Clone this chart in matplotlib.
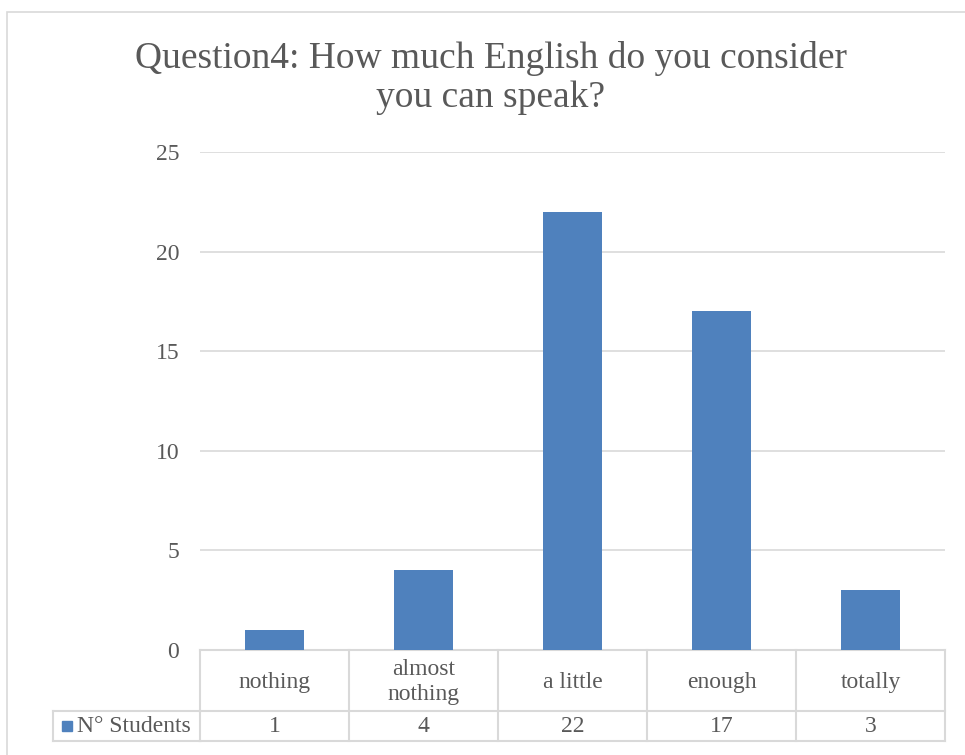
import numpy as np
import matplotlib.pyplot as plt
from matplotlib.transforms import blended_transform_factory
from matplotlib.patches import Rectangle

# data
categories = ["nothing", "almost\nnothing", "a little", "enough", "totally"]
students = [1, 4, 22, 17, 3]
series_name = "N\u00b0 Students"
yticks = [0, 5, 10, 15, 20, 25]

W, H = 965, 755
bar_color = "#4F81BD"
grid_color = "#D9D9D9"
text_color = "#595959"
plt.rcParams['font.family'] = ['Liberation Serif', 'DejaVu Serif']

fig = plt.figure(figsize=(W / 100, H / 100), dpi=100)

def fx(px):
    return px / W

def fy(py):
    return 1 - py / H

# outer chart border
fig.patches.append(Rectangle((fx(7), fy(1000)), fx(1000), fy(12) - fy(1000),
                             transform=fig.transFigure, fill=False,
                             edgecolor=grid_color, linewidth=1.2))

ax = fig.add_axes([fx(200), fy(650), fx(945) - fx(200), fy(152) - fy(650)])
x = np.arange(len(categories))
ax.bar(x, students, width=0.4, color=bar_color, zorder=3)
ax.set_xlim(-0.5, len(categories) - 0.5)
ax.set_ylim(0, 25)
ax.set_yticks(yticks)
ax.set_yticklabels([str(v) for v in yticks], fontsize=17, color=text_color)
ax.tick_params(axis='y', length=0, pad=15)
ax.set_xticks([])
ax.grid(axis='y', color=grid_color, linewidth=1.2, zorder=0)
for s in ax.spines.values():
    s.set_visible(False)

fig.text(fx(491), fy(78), "Question4: How much English do you consider\nyou can speak?",
         ha='center', va='center', fontsize=27, color=text_color, linespacing=1.17)

# data table below the axes
tr = blended_transform_factory(ax.transData, fig.transFigure)
y_top, y_mid, y_bot = fy(650), fy(711), fy(741)
left_px = 53
kw = dict(color=grid_color, linewidth=1.5, transform=tr, clip_on=False)
x0, x1 = -0.5, len(categories) - 0.5
ax.plot([x0, x1], [y_top, y_top], **kw)
ax.plot([x0, x1], [y_mid, y_mid], **kw)
ax.plot([x0, x1], [y_bot, y_bot], **kw)
for i in range(len(categories) + 1):
    ax.plot([i - 0.5, i - 0.5], [y_top, y_bot], **kw)
lkw = dict(color=grid_color, linewidth=1.5, transform=fig.transFigure)
fig.add_artist(plt.Line2D([fx(left_px), fx(200)], [y_mid, y_mid], **lkw))
fig.add_artist(plt.Line2D([fx(left_px), fx(200)], [y_bot, y_bot], **lkw))
fig.add_artist(plt.Line2D([fx(left_px), fx(left_px)], [y_mid, y_bot], **lkw))

for i, (c, v) in enumerate(zip(categories, students)):
    ax.text(i, (y_top + y_mid) / 2 - 0.002, c, transform=tr, ha='center', va='center',
            fontsize=17, color=text_color, linespacing=1.3)
    ax.text(i, (y_mid + y_bot) / 2, str(v), transform=tr, ha='center', va='center',
            fontsize=17, color=text_color)

fig.patches.append(Rectangle((fx(62), fy(731)), fx(10), fy(721) - fy(731),
                             transform=fig.transFigure, color=bar_color))
fig.text(fx(77), (y_mid + y_bot) / 2, series_name, ha='left', va='center',
         fontsize=17, color=text_color)

fig.savefig("out.png", dpi=100)
